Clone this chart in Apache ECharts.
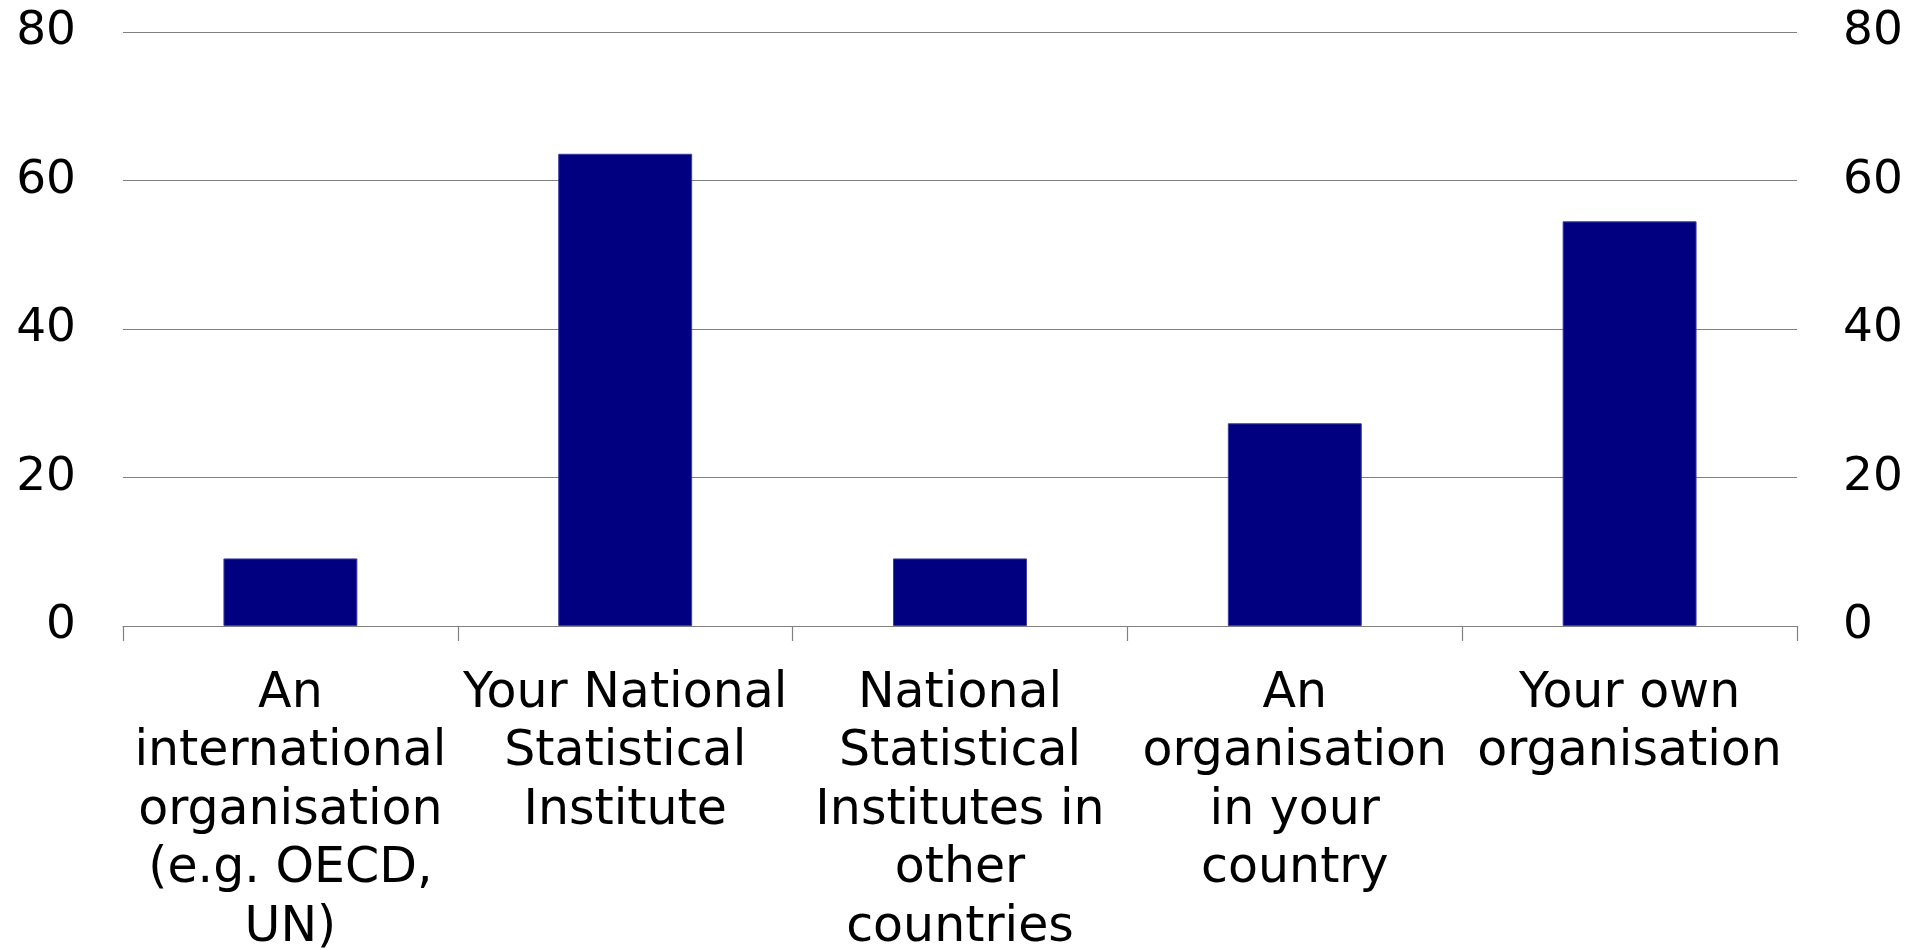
<!DOCTYPE html>
<html>
<head>
<meta charset="utf-8">
<title>Chart</title>
<script src="https://cdn.jsdelivr.net/npm/echarts@6/dist/echarts.min.js"></script>
<style>
  html, body { margin: 0; padding: 0; background: #fff; }
  #chart { width: 1907px; height: 950px; }
</style>
</head>
<body>
<div id="chart"></div>
<script>
// categories (line breaks as in the original chart)
var categories = [
  'An\ninternational\norganisation\n(e.g. OECD,\nUN)',
  'Your National\nStatistical\nInstitute',
  'National\nStatistical\nInstitutes in\nother\ncountries',
  'An\norganisation\nin your\ncountry',
  'Your own\norganisation'
]
// share of respondents, %
var values = [9.1, 63.6, 9.1, 27.3, 54.5]
var yTicks = { min: 0, max: 80, interval: 20 }

var font = 'Verdana, "DejaVu Sans", sans-serif'
var gray = '#808080'

var chart = echarts.init(document.getElementById('chart'))
chart.setOption({
  animation: false,
  textStyle: { fontFamily: font },
  grid: { left: 123, right: 110, top: 32, bottom: 324, outerBoundsMode: 'none', containLabel: false },
  xAxis: {
    type: 'category',
    data: categories,
    axisLine: { lineStyle: { color: gray, width: 1.2 } },
    axisTick: { show: true, length: 15, lineStyle: { color: gray, width: 1.2 } },
    axisLabel: {
      interval: 0,
      color: '#000',
      fontSize: 49,
      lineHeight: 58.5,
      margin: 39,
      fontFamily: font
    }
  },
  yAxis: [
    {
      type: 'value',
      min: yTicks.min, max: yTicks.max, interval: yTicks.interval,
      axisLine: { show: false },
      axisTick: { show: false },
      splitLine: { lineStyle: { color: gray, width: 1.2 } },
      axisLabel: { color: '#000', fontSize: 47, margin: 47, fontFamily: font }
    },
    {
      type: 'value',
      position: 'right',
      min: yTicks.min, max: yTicks.max, interval: yTicks.interval,
      axisLine: { show: false },
      axisTick: { show: false },
      splitLine: { show: false },
      axisLabel: { color: '#000', fontSize: 47, margin: 46, fontFamily: font }
    }
  ],
  series: [
    {
      type: 'bar',
      data: values,
      barWidth: '40%',
      itemStyle: { color: '#000080', borderColor: '#3b3ba0', borderWidth: 1 }
    }
  ]
})
</script>
</body>
</html>
